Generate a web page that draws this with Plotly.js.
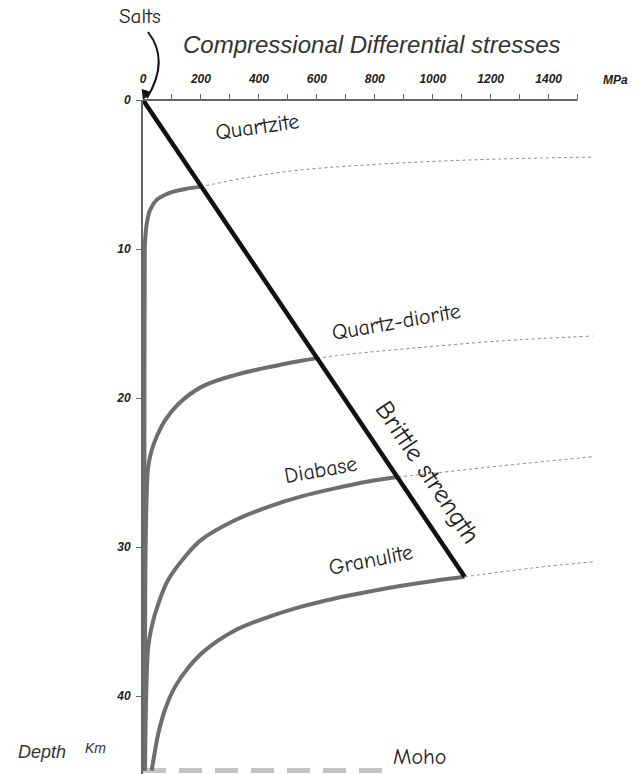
<!DOCTYPE html>
<html>
<head>
<meta charset="utf-8">
<script src="https://cdn.plot.ly/plotly-3.0.1.min.js"></script>
<style>html,body{margin:0;padding:0;background:#fff;}#chart{width:642px;height:774px;}</style>
</head>
<body>
<div id="chart"></div>
<script>
// Differential stress (MPa) vs depth (km)
const brittleStress = [0, 1110];
const brittleDepth  = [0, 32.0];

const quartziteStress = [4, 5, 6, 8, 13, 24, 47, 75, 105, 150, 197];
const quartziteDepth  = [45, 20, 10.1, 9.2, 8.3, 7.4, 6.7, 6.38, 6.15, 5.95, 5.83];
const quartziteDotStress = [197, 369, 541, 886, 1231, 1552];
const quartziteDotDepth  = [5.83, 5.17, 4.70, 4.23, 3.96, 3.83];

const qdioriteStress = [5, 8, 12, 18, 30, 47, 76, 122, 202, 317, 432, 547, 600];
const qdioriteDepth  = [45, 32, 27, 24.6, 23.5, 22.6, 21.5, 20.4, 19.25, 18.46, 17.94, 17.5, 17.32];
const qdioriteDotStress = [600, 750, 886, 1231, 1552];
const qdioriteDotDepth  = [17.32, 16.98, 16.73, 16.17, 15.84];

const diabaseStress = [7, 11, 18, 30, 53, 87, 145, 202, 317, 432, 547, 662, 777, 879];
const diabaseDepth  = [45, 40, 36.7, 35.35, 33.8, 32.2, 30.65, 29.5, 28.2, 27.3, 26.6, 26.06, 25.6, 25.3];
const diabaseDotStress = [879, 1000, 1231, 1552];
const diabaseDotDepth  = [25.3, 25.05, 24.56, 23.94];

const granuliteStress = [30, 36, 53, 76, 110, 156, 210, 317, 432, 547, 662, 777, 892, 1007, 1110];
const granuliteDepth  = [45, 44.3, 42.5, 40.9, 39.4, 38.1, 37.0, 35.6, 34.7, 34.0, 33.45, 33.0, 32.6, 32.26, 32.0];
const granuliteDotStress = [1110, 1345, 1552];
const granuliteDotDepth  = [32.0, 31.4, 30.99];

const mohoStress = [0, 835];
const mohoDepth  = [45, 45];

const xTickVals = [0,100,200,300,400,500,600,700,800,900,1000,1100,1200,1300,1400,1500];
const xTickText = ['0','','200','','400','','600','','800','','1000','','1200','','1400',''];
const yTickVals = [0, 10, 20, 30, 40];

const rockLabels = ['Quartzite', 'Quartz-diorite', 'Diabase', 'Granulite'];
const rockLabelStress = [393, 872, 612, 785];
const rockLabelDepth  = [1.81, 14.9, 24.8, 30.85];
const rockLabelAngle  = [-8, -10, -10, -11];

const comic = '"Comic Sans MS", "Comic Neue", "Noto Sans", sans-serif';
const arial = 'Arial, "Liberation Sans", sans-serif';
const ductileColor = '#6e6e6e';

function lineTrace(x, y, color, width, dash, shape) {
  return {x: x, y: y, type: 'scatter', mode: 'lines', hoverinfo: 'skip',
          line: {color: color, width: width, dash: dash || 'solid', shape: shape || 'spline', smoothing: 1}};
}

const traces = [
  lineTrace(quartziteDotStress, quartziteDotDepth, '#888', 1, 'dot'),
  lineTrace(qdioriteDotStress, qdioriteDotDepth, '#888', 1, 'dot'),
  lineTrace(diabaseDotStress, diabaseDotDepth, '#888', 1, 'dot'),
  lineTrace(granuliteDotStress, granuliteDotDepth, '#888', 1, 'dot'),
  lineTrace(mohoStress, mohoDepth, '#c4c4c4', 5, '23px,13px', 'linear'),
  lineTrace(quartziteStress, quartziteDepth, ductileColor, 4),
  lineTrace(qdioriteStress, qdioriteDepth, ductileColor, 4),
  lineTrace(diabaseStress, diabaseDepth, ductileColor, 4),
  lineTrace(granuliteStress, granuliteDepth, ductileColor, 4),
  lineTrace(brittleStress, brittleDepth, '#111', 4.5, 'solid', 'linear')
];

function paperNote(x, y, text, font) {
  return {x: x, y: y, xref: 'paper', yref: 'paper', xanchor: 'center', yanchor: 'middle',
          text: text, showarrow: false, font: font};
}

const annotations = [];
rockLabels.forEach((t, i) => {
  annotations.push({x: rockLabelStress[i], y: rockLabelDepth[i], xref: 'x', yref: 'y', text: t,
    xanchor: 'center', yanchor: 'middle',
    showarrow: false, textangle: rockLabelAngle[i], font: {family: comic, size: 22, color: '#222'}});
});
annotations.push({x: 983, y: 25.0, xref: 'x', yref: 'y', text: 'Brittle strength', showarrow: false,
  xanchor: 'center', yanchor: 'middle',
  textangle: 56, font: {family: comic, size: 26, color: '#222'}});
annotations.push({x: 955, y: 44.1, xref: 'x', yref: 'y', text: 'Moho', showarrow: false,
  xanchor: 'center', yanchor: 'middle',
  font: {family: comic, size: 22, color: '#222'}});
annotations.push(paperNote(0.506, 1.083, 'Compressional Differential stresses',
  {family: arial, size: 24, color: '#333', style: 'italic'}));
annotations.push(paperNote(-0.0066, 1.1246, 'Salts', {family: comic, size: 21, color: '#222'}));
annotations.push(paperNote(1.0455, 1.0297, 'MPa', {family: arial, size: 12, color: '#222', style: 'italic', weight: 'bold'}));
annotations.push(paperNote(-0.2235, 0.0326, 'Depth', {family: arial, size: 18, color: '#333', style: 'italic'}));
annotations.push(paperNote(-0.104, 0.0386, 'Km', {family: arial, size: 14, color: '#333', style: 'italic'}));
annotations.push({x: 0, y: 0, xref: 'x', yref: 'y', ax: 4, ay: -11, text: '', showarrow: true,
  arrowhead: 2, arrowsize: 1, arrowwidth: 2, arrowcolor: '#111'});

const layout = {
  width: 642, height: 774,
  margin: {l: 143, r: 47, t: 100, b: 0, pad: 0},
  paper_bgcolor: '#fff', plot_bgcolor: '#fff',
  showlegend: false,
  xaxis: {side: 'top', range: [0, 1560], autorange: false, showgrid: false, zeroline: false, showline: false,
    ticks: 'outside', ticklen: 5, tickwidth: 1, tickcolor: '#666', tickmode: 'array',
    tickvals: xTickVals, ticktext: xTickText, ticklabelstandoff: 6,
    tickfont: {family: arial, size: 12, color: '#222', style: 'italic', weight: 'bold'}},
  yaxis: {range: [45.23, 0], autorange: false, showgrid: false, zeroline: false, showline: true,
    linecolor: '#666', linewidth: 2, ticks: 'outside', ticklen: 5, tickwidth: 1, tickcolor: '#666',
    tickmode: 'array', tickvals: yTickVals, ticklabelstandoff: 3,
    tickfont: {family: arial, size: 12, color: '#222', style: 'italic', weight: 'bold'}},
  shapes: [
    {type: 'line', xref: 'paper', yref: 'paper', x0: 0, x1: 1500/1560, y0: 1, y1: 1,
     line: {color: '#666', width: 2}},
    {type: 'path', xref: 'paper', yref: 'paper', path: 'M 0.011 1.1009 Q 0.0597 1.0593 0.0088 1.003',
     line: {color: '#111', width: 2}}
  ],
  annotations: annotations
};

Plotly.newPlot('chart', traces, layout, {staticPlot: true, displayModeBar: false});
</script>
</body>
</html>
